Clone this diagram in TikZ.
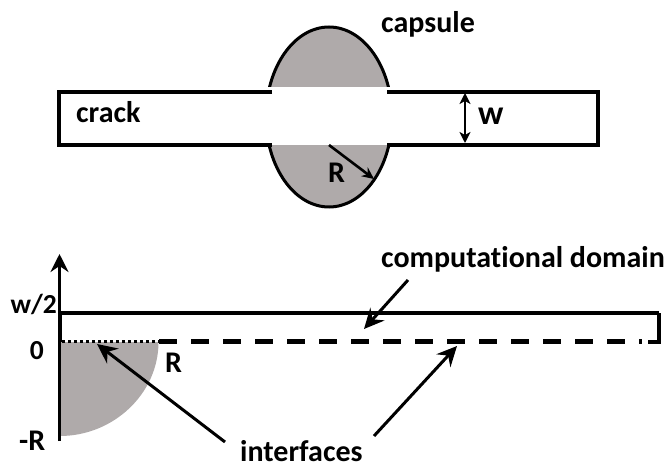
\documentclass[tikz,border=0pt]{standalone}
\usepackage{fontspec}
\setmainfont[Ligatures=NoCommon]{Carlito}
\usetikzlibrary{arrows.meta}
\definecolor{capgray}{RGB}{175,170,170}
\tikzset{
  x=1pt,y=-1pt,
  wall/.style={line width=4.2pt,black},
  lab/.style={font=\bfseries\fontsize{30}{32}\selectfont,inner sep=0pt,text=black},
  labsmall/.style={font=\bfseries\fontsize{27.5}{30}\selectfont,inner sep=0pt,text=black},
  arr/.style={line width=3pt,black,-{Stealth[length=20pt,width=19pt,inset=7pt]}},
  small arr/.style={line width=2.6pt,black},
}
\begin{document}
\begin{tikzpicture}
\useasboundingbox (0,0) rectangle (667,465);
% capsule
\begin{scope}
\clip (250,20) rectangle (410,87);
\draw[fill=capgray,line width=3pt] (329,117) ellipse [x radius=63,y radius=90];
\end{scope}
\begin{scope}
\clip (250,146) rectangle (410,215);
\draw[fill=capgray,line width=3pt] (329,117) ellipse [x radius=63,y radius=90];
\end{scope}
% crack
\coordinate (c1) at (272,92);
\coordinate (c2) at (59,92);
\coordinate (c3) at (59,145);
\coordinate (c4) at (272,145);
\coordinate (c5) at (387,92);
\coordinate (c6) at (598,92);
\coordinate (c7) at (598,145);
\coordinate (c8) at (387,145);
\draw[wall] (c1) -- (c2) -- (c3) -- (c4);
\draw[wall] (c5) -- (c6) -- (c7) -- (c8);
\node[lab,anchor=base west] (crack) at (76,123) {crack};
\node[lab,anchor=base west] (capsule) at (381,33) {capsule};
\node[lab,anchor=base west,font=\bfseries\fontsize{34}{36}\selectfont] (w) at (478,125) {w};
\coordinate (wt) at (465,93);
\coordinate (wb) at (465,143);
\draw[small arr,{Stealth[length=11pt,width=11pt,inset=3pt]}-{Stealth[length=11pt,width=11pt,inset=3pt]}] (wt) -- (wb);
\node[lab,anchor=base west] (Rtop) at (328,183) {R};
\coordinate (r1) at (329,145);
\coordinate (r2) at (374,179);
\draw[small arr,-{Stealth[length=12pt,width=11pt,inset=4pt]}] (r1) -- (r2);
% lower
\fill[capgray] (60,342) -- (158.5,342) .. controls (158.5,394) and (113,436) .. (60,436) -- cycle;
\coordinate (ya) at (59.5,254);
\coordinate (yb) at (59.5,441);
\draw[line width=3pt,-{Stealth[length=18pt,width=18pt,inset=6pt]}] (yb) -- (ya);
\coordinate (d1) at (60,313);
\coordinate (d2) at (659,313);
\coordinate (d3) at (659,342);
\coordinate (d4) at (648,342);
\draw[line width=3.6pt] (d1) -- (d2);
\draw[line width=4.2pt] (d2) -- (d3) -- (d4);
\draw[line width=4pt] (d1) -- (60,342);
\coordinate (e1) at (159,341.5);
\coordinate (e2) at (642,341.5);
\draw[line width=4.4pt,dash pattern=on 18pt off 14pt] (e1) -- (e2);
\coordinate (e0) at (62,341.5);
\draw[line width=3.4pt,dash pattern=on 3pt off 3pt] (e0) -- (e1);
\node[labsmall,anchor=base east] (w2) at (57,313) {w/2};
\node[labsmall,anchor=base east] (zero) at (44,359) {0};
\node[lab,anchor=base west] (Rb) at (165,372) {R};
\node[lab,anchor=base west] (mR) at (19,450) {-R};
\node[lab,anchor=base east] (comp) at (665,268) {computational domain};
\node[lab,anchor=base west] (inter) at (240,461) {interfaces};
\coordinate (a1) at (408,280);
\coordinate (a2) at (364,329);
\draw[arr] (a1) -- (a2);
\coordinate (b1) at (225,442);
\coordinate (b2) at (97,344);
\draw[arr] (b1) -- (b2);
\coordinate (c9) at (374,436);
\coordinate (c10) at (457,346);
\draw[arr] (c9) -- (c10);
\end{tikzpicture}
\end{document}
